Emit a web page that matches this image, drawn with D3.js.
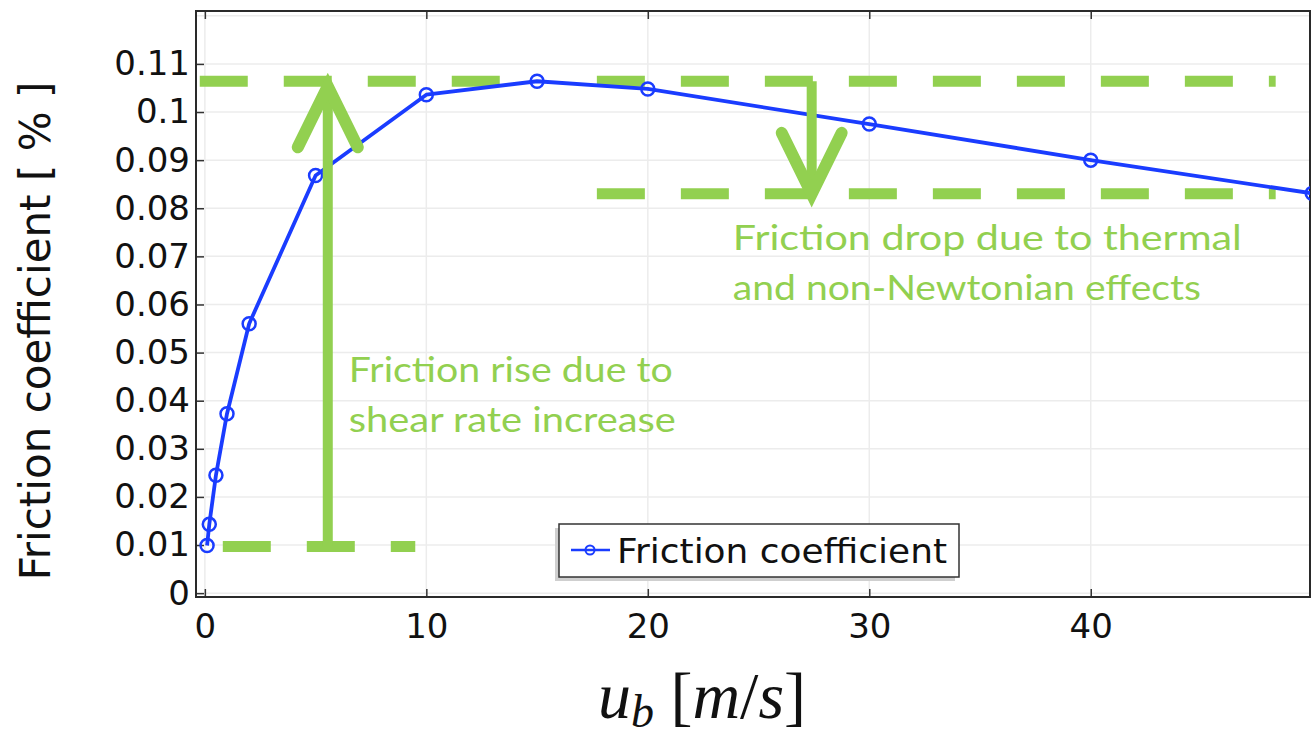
<!DOCTYPE html>
<html>
<head>
<meta charset="utf-8">
<script src="https://cdn.jsdelivr.net/npm/d3@7/dist/d3.min.js"></script>
<style>
  html, body { margin: 0; padding: 0; background: #fff; }
  svg { display: block; }
</style>
</head>
<body>
<svg id="chart" width="1312" height="740"></svg>
<script>
// ---------- data ----------
const speed = [0.1, 0.2, 0.5, 1, 2, 5, 10, 15, 20, 30, 40, 50];            // u_b [m/s]
const friction = [0.0099, 0.0143, 0.0245, 0.0373, 0.0560, 0.0868, 0.1036, 0.1064, 0.1048, 0.0975, 0.0900, 0.0831];
const seriesName = "Friction coefficient";
const xTicks = [0, 10, 20, 30, 40];
const xTickLabels = ["0", "10", "20", "30", "40"];
const yTicks = [0, 0.01, 0.02, 0.03, 0.04, 0.05, 0.06, 0.07, 0.08, 0.09, 0.1, 0.11];
const yTickLabels = ["0", "0.01", "0.02", "0.03", "0.04", "0.05", "0.06", "0.07", "0.08", "0.09", "0.1", "0.11"];
const yGrid = [0, 0.01, 0.02, 0.03, 0.04, 0.05, 0.06, 0.07, 0.08, 0.09, 0.1, 0.11, 0.12];
const xDomain = [-0.4, 49.9];
const yDomain = [-0.0008, 0.121];
// annotation guide lines (data units): [x0, x1, y]
const guideLines = [
  [-0.23, 13.35, 0.1064],
  [0.81, 9.5, 0.0097],
  [17.7, 48.35, 0.1064],
  [17.7, 48.35, 0.0830]
];
// arrows: [x, yFrom, yTo]
const arrows = [
  [5.55, 0.0097, 0.1064],
  [27.4, 0.1064, 0.0830]
];
const riseText = ["Friction rise due to", "shear rate increase"];
const dropText = ["Friction drop due to thermal", "and non-Newtonian effects"];
const riseTextPos = [6.5, 0.0439];
const dropTextPos = [23.84, 0.0713];

// ---------- layout ----------
const L = 196, R = 1310, T = 11, B = 597;
const svg = d3.select("#chart");
const x = d3.scaleLinear().domain(xDomain).range([L, R]);
const y = d3.scaleLinear().domain(yDomain).range([B, T]);
const green = "#92d050";
const blue = "#1a3cff";

// grid
svg.append("g").selectAll("line").data(yGrid).join("line")
  .attr("x1", L).attr("x2", R).attr("y1", d => y(d)).attr("y2", d => y(d))
  .attr("stroke", "#ececec").attr("stroke-width", 1.5);
svg.append("g").selectAll("line").data(xTicks).join("line")
  .attr("y1", T).attr("y2", B).attr("x1", d => x(d)).attr("x2", d => x(d))
  .attr("stroke", "#ececec").attr("stroke-width", 1.5);

// axes via d3 (inside ticks)
const fontTick = "'DejaVu Sans', sans-serif";
const xAxis = d3.axisBottom(x).tickValues(xTicks).tickFormat((d, i) => xTickLabels[i]).tickSizeInner(-8).tickSizeOuter(0).tickPadding(17);
const gx = svg.append("g").attr("transform", `translate(0,${B})`).call(xAxis);
gx.select(".domain").remove();
gx.selectAll("line").attr("stroke", "#333").attr("stroke-width", 1.5);
gx.selectAll("text").attr("font-family", fontTick).attr("font-size", 34).attr("fill", "#111");

const xAxisTop = d3.axisTop(x).tickValues(xTicks).tickFormat("").tickSizeInner(-8).tickSizeOuter(0);
const gxt = svg.append("g").attr("transform", `translate(0,${T})`).call(xAxisTop);
gxt.select(".domain").remove();
gxt.selectAll("line").attr("stroke", "#333").attr("stroke-width", 1.5);

const yAxis = d3.axisLeft(y).tickValues(yTicks).tickFormat((d, i) => yTickLabels[i]).tickSizeInner(-8).tickSizeOuter(0).tickPadding(6);
const gy = svg.append("g").attr("transform", `translate(${L},0)`).call(yAxis);
gy.select(".domain").remove();
gy.selectAll("line").attr("stroke", "#333").attr("stroke-width", 1.5);
gy.selectAll("text").attr("font-family", fontTick).attr("font-size", 34).attr("fill", "#111").attr("x", -6);

// frame
svg.append("rect").attr("x", L).attr("y", T).attr("width", R - L).attr("height", B - T)
  .attr("fill", "none").attr("stroke", "#2a2a2a").attr("stroke-width", 2);

// clip
svg.append("clipPath").attr("id", "clip").append("rect")
  .attr("x", L).attr("y", T).attr("width", R - L).attr("height", B - T);

// guide dashed lines
svg.append("g").selectAll("line").data(guideLines).join("line")
  .attr("x1", d => x(d[0])).attr("x2", d => x(d[1]))
  .attr("y1", d => y(d[2])).attr("y2", d => y(d[2]))
  .attr("stroke", green).attr("stroke-width", 11)
  .attr("stroke-dasharray", "48 36");

// data line
const plot = svg.append("g").attr("clip-path", "url(#clip)");
const pts = speed.map((s, i) => [s, friction[i]]);
plot.append("path").datum(pts)
  .attr("d", d3.line().x(d => x(d[0])).y(d => y(d[1])))
  .attr("fill", "none").attr("stroke", blue).attr("stroke-width", 3.8).attr("stroke-linejoin", "round");
plot.selectAll("circle").data(pts).join("circle")
  .attr("cx", d => x(d[0])).attr("cy", d => y(d[1])).attr("r", 6.5)
  .attr("fill", "none").attr("stroke", blue).attr("stroke-width", 2.5);

// arrows
const ag = svg.append("g");
arrows.forEach(a => {
  const xa = x(a[0]), y0 = y(a[1]), y1 = y(a[2]);
  const dir = y1 < y0 ? -1 : 1;           // -1 : pointing up
  const tipY = y1 + (dir < 0 ? 5 : 0);
  ag.append("line").attr("x1", xa).attr("x2", xa).attr("y1", y0).attr("y2", tipY)
    .attr("stroke", green).attr("stroke-width", 10);
  const bx = 30, by = 61;
  ag.append("path")
    .attr("d", `M${xa - bx},${tipY - dir * by} L${xa},${tipY} L${xa + bx},${tipY - dir * by}`)
    .attr("fill", "none").attr("stroke", green).attr("stroke-width", 12)
    .attr("stroke-linecap", "round").attr("stroke-linejoin", "miter");
});

// annotation texts
const annFont = "Lato, 'Open Sans', sans-serif";
function annot(lines, pos, widths) {
  lines.forEach((t, i) => {
    svg.append("text").attr("x", x(pos[0])).attr("y", y(pos[1]) + i * 50)
      .attr("font-family", annFont).attr("font-size", 35).attr("fill", green)
      .attr("textLength", widths[i]).attr("lengthAdjust", "spacingAndGlyphs")
      .text(t);
  });
}
annot(riseText, riseTextPos, [324, 327]);
annot(dropText, dropTextPos, [509, 468]);

// legend
const lg = svg.append("g");
lg.append("rect").attr("x", 555).attr("y", 528).attr("width", 400).attr("height", 53).attr("fill", "#cfcfcf");
lg.append("rect").attr("x", 559).attr("y", 524).attr("width", 400).attr("height", 53)
  .attr("fill", "#fff").attr("stroke", "#333").attr("stroke-width", 1.5);
lg.append("line").attr("x1", 571).attr("x2", 610).attr("y1", 550).attr("y2", 550)
  .attr("stroke", blue).attr("stroke-width", 2.5);
lg.append("circle").attr("cx", 590).attr("cy", 550).attr("r", 4.5)
  .attr("fill", "none").attr("stroke", blue).attr("stroke-width", 2);
lg.append("text").attr("x", 617).attr("y", 563).attr("font-family", fontTick).attr("font-size", 34)
  .attr("fill", "#111").attr("textLength", 330).attr("lengthAdjust", "spacingAndGlyphs").text(seriesName);

// y axis title
svg.append("text").attr("transform", `translate(50,331) rotate(-90)`)
  .attr("text-anchor", "middle").attr("font-family", fontTick).attr("font-size", 42).attr("fill", "#111")
  .text("Friction coefficient [ % ]");

// x axis title (math style)
const xt = svg.append("text").attr("x", 702).attr("y", 718).attr("text-anchor", "middle")
  .attr("font-family", "'Liberation Serif', 'DejaVu Serif', serif").attr("font-size", 66).attr("fill", "#111");
xt.append("tspan").attr("font-style", "italic").text("u");
xt.append("tspan").attr("font-style", "italic").attr("font-size", 46).attr("dy", 9).text("b");
xt.append("tspan").attr("dy", -9).text(" [");
xt.append("tspan").attr("font-style", "italic").text("m");
xt.append("tspan").text("/");
xt.append("tspan").attr("font-style", "italic").text("s");
xt.append("tspan").text("]");
</script>
</body>
</html>
